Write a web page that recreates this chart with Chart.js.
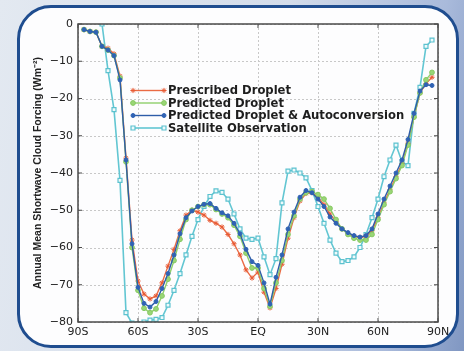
<!DOCTYPE html>
<html>
<head>
<meta charset="utf-8">
<script src="https://cdn.jsdelivr.net/npm/chart.js@4.4.1/dist/chart.umd.min.js"></script>
<style>
  html, body { margin: 0; padding: 0; }
  body {
    width: 464px; height: 351px; overflow: hidden; position: relative;
    background: linear-gradient(100deg, #e3e9f1 0%, #d3dcea 55%, #a9badb 85%, #8097c2 100%);
  }
  #frame {
    position: absolute; left: 17px; top: 5px; width: 442px; height: 343px;
    box-sizing: border-box; border: 3px solid #1f4d8f; border-radius: 34px;
    background: #fdfdfe;
  }
  #wrap { position: absolute; left: 0; top: 0; width: 464px; height: 351px; }
</style>
</head>
<body>
<div id="frame"></div>
<div id="wrap"><canvas id="myChart" width="464" height="351"></canvas></div>
<script>
'use strict';

// Latitudes (degrees, S negative)
const lats = [-87, -84, -81, -78, -75, -72, -69, -66, -63, -60, -57, -54, -51, -48, -45, -42, -39, -36, -33, -30,
  -27, -24, -21, -18, -15, -12, -9, -6, -3, 0, 3, 6, 9, 12, 15, 18, 21, 24, 27, 30,
  33, 36, 39, 42, 45, 48, 51, 54, 57, 60, 63, 66, 69, 72, 75, 78, 81, 84, 87];

const xTickLabels = ['90S', '60S', '30S', 'EQ', '30N', '60N', '90N'];

const prescribed = [-1.5, -2, -2.2, -6, -6.5, -8, -14, -36, -58, -69, -72.5, -73.8, -73, -69.5, -65, -60.5, -55.5, -51.3, -50, -50.5,
  -51.3, -52.7, -53.5, -54.5, -56.5, -59, -62, -66, -68.2, -66.6, -72, -76.2, -71, -64.5, -57.5, -52, -47.5, -45.5, -45.3, -46.5,
  -48.5, -51, -53, -55, -56.3, -57, -57.3, -57, -55.5, -52, -48, -44.5, -41, -37.5, -32, -25, -18.5, -16, -14.3];

const predicted = [-1.5, -2, -2.2, -6, -7, -8.5, -14.5, -37, -60, -71.5, -76.3, -77.5, -76.5, -73, -68.5, -63.5, -57.8, -52.5, -50, -49,
  -48.5, -48.5, -49.8, -51, -52, -54, -57, -61.5, -65.5, -65.5, -71, -75.8, -69.5, -63.5, -56.5, -51.5, -47, -45.3, -45, -45.8,
  -47, -49.5, -52.5, -55, -56.5, -57.5, -58, -58, -56.5, -52.5, -48.5, -45, -41.5, -38, -32.5, -25, -18.5, -15, -13];

const predictedAuto = [-1.5, -2, -2.2, -6, -7, -8.5, -15, -36.5, -59, -70.7, -75, -76, -74.5, -71, -67, -62, -56.3, -52, -50.2, -49,
  -48.4, -48.2, -49.5, -50.7, -51.5, -53.5, -56.3, -60.5, -63.8, -64.8, -69.5, -75.2, -68, -62, -55, -50.5, -46.5, -44.7, -45.3, -47,
  -49, -51.8, -53.5, -55, -56, -56.8, -57.2, -56.8, -55, -51, -47, -43.5, -40, -36.5, -31, -24, -18, -16.3, -16.5];

const satellite = [null, null, null, 0, -12.5, -23, -42, -77.5, -80.3, -80.5, -80, -79.5, -79.3, -78.8, -75.5, -71.5, -67, -62, -57, -52.5,
  -49, -46.3, -44.8, -45.2, -47, -51, -55, -57.5, -57.8, -57.5, -62.5, -67.3, -63, -48, -39.5, -39.2, -40, -41.3, -44.7, -49,
  -53.5, -58, -61.5, -63.8, -63.5, -62.5, -60, -56.5, -52, -47, -41, -36.5, -32.5, -37, -38, -24, -17, -6, -4.3];

function toPoints(vals) {
  return lats.map((lat, i) => ({ x: lat, y: vals[i] }));
}

const FONT = "'DejaVu Sans', sans-serif";

// Rejilla punteada
const dottedGrid = {
  id: 'dottedGrid',
  beforeDatasetsDraw(chart) {
    const { ctx, chartArea: a, scales } = chart;
    ctx.save();
    ctx.strokeStyle = '#c8c8c8';
    ctx.lineWidth = 1;
    ctx.setLineDash([2, 2]);
    ctx.beginPath();
    scales.y.ticks.forEach(t => {
      const py = Math.round(scales.y.getPixelForValue(t.value)) + 0.5;
      ctx.moveTo(a.left, py); ctx.lineTo(a.right, py);
    });
    scales.x.ticks.forEach(t => {
      const px = Math.round(scales.x.getPixelForValue(t.value)) + 0.5;
      ctx.moveTo(px, a.top); ctx.lineTo(px, a.bottom);
    });
    ctx.stroke();
    ctx.restore();
  }
};

// Leyenda dentro del area del grafico
const legendInside = {
  id: 'legendInside',
  afterDatasetsDraw(chart) {
    const ctx = chart.ctx;
    const x0 = 133, x1 = 164, tx = 168;
    const rows = [90.5, 103, 115.5, 128];
    chart.data.datasets.forEach((ds, i) => {
      const y = rows[i];
      ctx.save();
      ctx.strokeStyle = ds.borderColor;
      ctx.lineWidth = ds.borderWidth;
      ctx.beginPath();
      ctx.moveTo(x0, y);
      ctx.lineTo(x1, y);
      ctx.stroke();
      [x0, x1].forEach(px => {
        ctx.fillStyle = ds.pointBackgroundColor;
        ctx.strokeStyle = ds.pointBorderColor;
        ctx.lineWidth = ds.pointBorderWidth;
        Chart.helpers.drawPoint(ctx, { pointStyle: ds.pointStyle, radius: ds.pointRadius, borderWidth: ds.pointBorderWidth, rotation: 0 }, px, y);
      });
      ctx.fillStyle = '#1e1e1e';
      ctx.font = 'bold 11.6px ' + FONT;
      ctx.textBaseline = 'middle';
      ctx.fillText(ds.label, tx, y + 0.5);
      ctx.restore();
    });
  }
};

// Caja del grafico y marcas hacia adentro
const plotBox = {
  id: 'plotBox',
  afterDraw(chart) {
    const { ctx, chartArea: a, scales } = chart;
    ctx.save();
    ctx.strokeStyle = '#4a4a4a';
    ctx.lineWidth = 1.5;
    ctx.strokeRect(a.left, a.top, a.right - a.left, a.bottom - a.top);
    ctx.lineWidth = 1;
    ctx.beginPath();
    scales.y.ticks.forEach(t => {
      const py = scales.y.getPixelForValue(t.value);
      ctx.moveTo(a.left, py); ctx.lineTo(a.left + 4, py);
      ctx.moveTo(a.right, py); ctx.lineTo(a.right - 4, py);
    });
    scales.x.ticks.forEach(t => {
      const px = scales.x.getPixelForValue(t.value);
      ctx.moveTo(px, a.bottom); ctx.lineTo(px, a.bottom - 4);
      ctx.moveTo(px, a.top); ctx.lineTo(px, a.top + 4);
    });
    ctx.stroke();
    ctx.restore();
  }
};

const ctx = document.getElementById('myChart').getContext('2d');
const myChart = new Chart(ctx, {
  type: 'line',
  data: {
    datasets: [{
      label: 'Prescribed Droplet',
      data: toPoints(prescribed),
      borderColor: '#ea6a44',
      borderWidth: 1.4,
      pointStyle: 'star',
      pointRadius: 2.6,
      pointBackgroundColor: '#ea6a44',
      pointBorderColor: '#e85a34',
      pointBorderWidth: 1,
      order: 3
    }, {
      label: 'Predicted Droplet',
      data: toPoints(predicted),
      borderColor: '#8fcf6a',
      borderWidth: 1.4,
      pointStyle: 'circle',
      pointRadius: 2.4,
      pointBackgroundColor: '#9ad676',
      pointBorderColor: '#86c862',
      pointBorderWidth: 1,
      order: 2
    }, {
      label: 'Predicted Droplet & Autoconversion',
      data: toPoints(predictedAuto),
      borderColor: '#2e5da8',
      borderWidth: 1.4,
      pointStyle: 'circle',
      pointRadius: 2,
      pointBackgroundColor: '#2f62b4',
      pointBorderColor: '#2f62b4',
      pointBorderWidth: 1,
      order: 1
    }, {
      label: 'Satellite Observation',
      data: toPoints(satellite),
      borderColor: '#62c6d2',
      borderWidth: 1.6,
      pointStyle: 'rect',
      pointRadius: 2.8,
      pointBackgroundColor: '#eefafb',
      pointBorderColor: '#5cc2cf',
      pointBorderWidth: 1.2,
      order: 4
    }]
  },
  options: {
    responsive: false,
    animation: false,
    devicePixelRatio: 1,
    layout: { padding: { left: 28, top: 24, right: 26, bottom: 11 } },
    plugins: { legend: { display: false }, tooltip: { enabled: false } },
    elements: { line: { tension: 0 } },
    scales: {
      x: {
        type: 'linear',
        min: -90,
        max: 90,
        afterFit: s => { s.height = 18; },
        ticks: {
          stepSize: 30,
          padding: 4,
          color: '#222',
          font: { family: FONT, size: 11 },
          callback: v => xTickLabels[Math.round((v + 90) / 30)]
        },
        grid: { color: 'rgba(0,0,0,0)', drawTicks: false },
        border: { display: false }
      },
      y: {
        min: -80,
        max: 0,
        afterFit: s => { s.width = 50; },
        ticks: {
          stepSize: 10,
          padding: 5,
          color: '#222',
          font: { family: FONT, size: 11 },
          callback: v => (v === 0 ? '0' : '\u2212' + Math.abs(v))
        },
        title: {
          display: true,
          text: 'Annual Mean Shortwave Cloud Forcing (Wm\u207B\u00B2)',
          color: '#222',
          font: { family: "'Liberation Sans', sans-serif", size: 10.5, weight: 'bold' },
          padding: { top: 4, bottom: 0 }
        },
        grid: { color: 'rgba(0,0,0,0)', drawTicks: false },
        border: { display: false }
      }
    }
  },
  plugins: [dottedGrid, legendInside, plotBox]
});
</script>
</body>
</html>
